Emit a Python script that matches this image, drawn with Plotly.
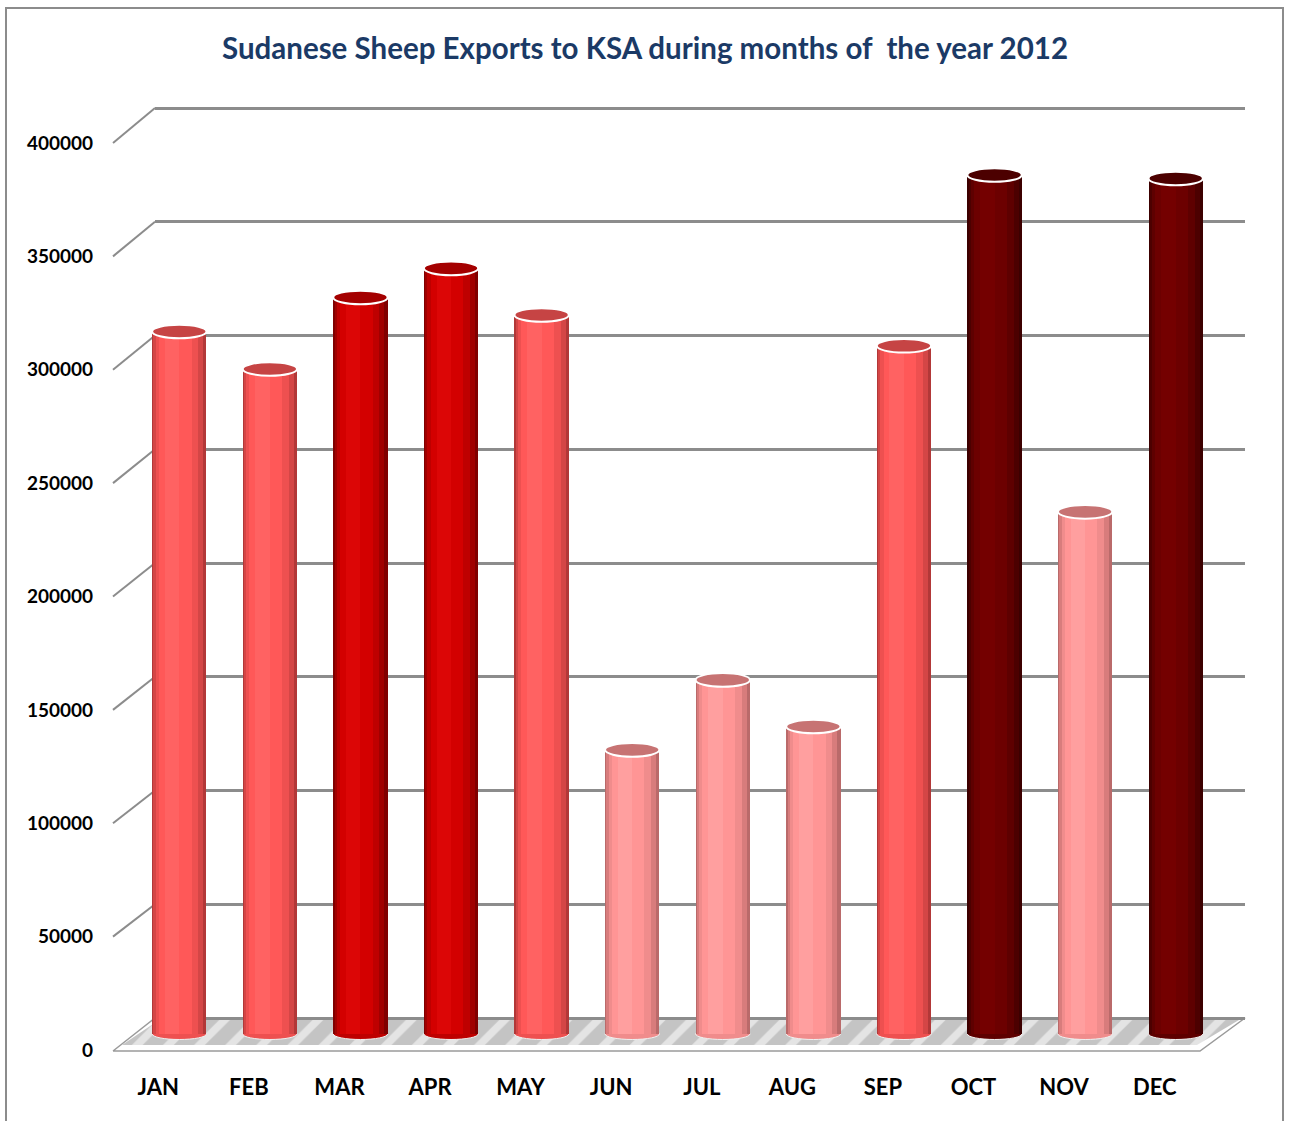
import plotly.graph_objects as go

# ---------------- data ----------------
months = ["JAN", "FEB", "MAR", "APR", "MAY", "JUN", "JUL", "AUG", "SEP", "OCT", "NOV", "DEC"]
exports = [309300, 292800, 324300, 337100, 316600, 125100, 155900, 135400, 303000, 378200, 229900, 376700]
color_group = ["red", "red", "dark", "dark", "red", "pink", "pink", "pink", "red", "maroon", "pink", "maroon"]
y_ticks = [0, 50000, 100000, 150000, 200000, 250000, 300000, 350000, 400000]
title_text = "Sudanese Sheep Exports to KSA during months of  the year 2012"

# ---------------- styling ----------------
W, H = 1290, 1121
FONT = "Lato"
palette = {  # layers from edge to highlight, then top cap
    "red":    ["#B23838", "#D44646", "#EE5050", "#FF5858", "#FF6262", "#C64444"],
    "dark":   ["#800000", "#A00000", "#BE0000", "#D30000", "#DC0606", "#A40000"],
    "pink":   ["#BA6A6A", "#D87C7C", "#F08C8C", "#FF9595", "#FF9F9F", "#C77373"],
    "maroon": ["#3C0000", "#4C0000", "#5E0000", "#6C0000", "#740000", "#4C0000"],
}

def dom_x(a, b):
    return [a / W, b / W]

def dom_y(top, bottom):
    return [1 - bottom / H, 1 - top / H]

YMAX = 400000
# planes (pixel geometry of the pseudo-3D box)
FRONT_X = (113, 1200); FRONT_Y0, FRONT_Y4 = 1050, 143
BACK_X = (155, 1245);  BACK_Y0, BACK_Y4 = 1018, 108
MID_X = (134, 1221);   MID_Y0, MID_Y4 = 1034, 125.5
mid_scale = (MID_Y0 - MID_Y4) / YMAX  # px per unit
BAR_LO, BAR_HI = -12000, 412000
GRID_LO, GRID_HI = -4000, 404000

def front_py(v):
    return FRONT_Y0 - v * (FRONT_Y0 - FRONT_Y4) / YMAX

def back_py(v):
    return BACK_Y0 - v * (BACK_Y0 - BACK_Y4) / YMAX

back_scale = (BACK_Y0 - BACK_Y4) / YMAX

fig = go.Figure()

# ---- page-level decorations (subplot x/y in pixel space) ----
floor_x = [FRONT_X[0], FRONT_X[1], BACK_X[1], BACK_X[0], FRONT_X[0]]
floor_y = [FRONT_Y0 + 1, FRONT_Y0 + 1, BACK_Y0, BACK_Y0, FRONT_Y0 + 1]
fig.add_trace(go.Scatter(x=floor_x, y=floor_y, mode="lines", fill="toself",
                         fillcolor="white", line=dict(color="#9a9a9a", width=1.5),
                         hoverinfo="skip", showlegend=False, xaxis="x", yaxis="y"))
inner_x = [FRONT_X[0] + 9, FRONT_X[1] - 3, BACK_X[1] - 6, BACK_X[0] + 4, FRONT_X[0] + 9]
inner_y = [FRONT_Y0 - 5, FRONT_Y0 - 5, BACK_Y0 + 2, BACK_Y0 + 2, FRONT_Y0 - 5]
fig.add_trace(go.Scatter(x=inner_x, y=inner_y, mode="lines", fill="toself",
                         fillcolor="#c8c8c8",
                         fillpattern=dict(shape="/", bgcolor="#c4c4c4", fgcolor="#e4e4e4",
                                          size=22, solidity=0.35),
                         line=dict(color="rgba(0,0,0,0)", width=0),
                         hoverinfo="skip", showlegend=False, xaxis="x", yaxis="y"))
# diagonal connectors from front ticks to back grid lines
cx, cy = [], []
for v in y_ticks[1:]:
    cx += [FRONT_X[0], BACK_X[0], None]
    cy += [front_py(v), back_py(v), None]
fig.add_trace(go.Scatter(x=cx, y=cy, mode="lines", line=dict(color="#8c8c8c", width=2),
                         hoverinfo="skip", showlegend=False, xaxis="x", yaxis="y"))

# ---- back grid (x2/y2) ----
fig.add_trace(go.Scatter(x=[0], y=[0], mode="markers", marker=dict(opacity=0),
                         hoverinfo="skip", showlegend=False, xaxis="x2", yaxis="y2"))

# ---- front axis labels (x3/y3) ----
fig.add_trace(go.Scatter(x=months, y=[0] * 12, mode="markers", marker=dict(opacity=0),
                         hoverinfo="skip", showlegend=False, xaxis="x3", yaxis="y3"))

# ---- cylinders (x4/y4) ----
xs = list(range(len(months)))
layers = [  # (width, offset) in category units
    (0.60, -0.30),
    (0.55, -0.285),
    (0.47, -0.26),
    (0.36, -0.225),
    (0.16, -0.16),
]
for li, (wd, off) in enumerate(layers):
    fig.add_trace(go.Bar(
        x=xs, y=exports, width=wd, offset=off,
        marker=dict(color=[palette[g][li] for g in color_group], line=dict(width=0)),
        hoverinfo="skip", showlegend=False, xaxis="x4", yaxis="y4"))

shapes = []
ell_h = 6.8 / mid_scale
bot_h = 5.5 / mid_scale
for i, (v, g) in enumerate(zip(exports, color_group)):
    # rounded bottom
    shapes.append(dict(type="circle", xref="x4", yref="y4", layer="below",
                       x0=i - 0.30, x1=i + 0.30, y0=-bot_h, y1=bot_h,
                       fillcolor=palette[g][2], line=dict(color="#f0f0f0", width=1)))
    # top cap
    shapes.append(dict(type="circle", xref="x4", yref="y4", layer="above",
                       x0=i - 0.30, x1=i + 0.30, y0=v - ell_h, y1=v + ell_h,
                       fillcolor=palette[g][5], line=dict(color="white", width=2)))
# chart border
shapes.append(dict(type="rect", xref="paper", yref="paper",
                   x0=6 / W, x1=1283 / W, y0=-0.02, y1=1 - 8 / H,
                   line=dict(color="#8c8c8c", width=2), fillcolor="rgba(0,0,0,0)"))

hidden = dict(visible=False, fixedrange=True, automargin=False)
fig.update_layout(
    template="none",
    width=W, height=H, autosize=False,
    margin=dict(l=0, r=0, t=0, b=0, pad=0),
    paper_bgcolor="white", plot_bgcolor="rgba(0,0,0,0)",
    barmode="overlay", bargap=0,
    showlegend=False,
    font=dict(family=FONT, color="black"),
    title=dict(text="<b>" + title_text + "</b>", x=645 / W, xanchor="center",
               y=1 - 49 / H, yanchor="middle", automargin=False,
               font=dict(family=FONT, size=29.5, color="#1B3A66")),
    shapes=shapes,
    xaxis=dict(domain=[0, 1], range=[0, W], anchor="y", **hidden),
    yaxis=dict(domain=[0, 1], range=[H, 0], anchor="x", **hidden),
    xaxis2=dict(domain=dom_x(*BACK_X), range=[-0.5, 11.5], anchor="y2", automargin=False,
                showgrid=False, showticklabels=False, zeroline=False, showline=False, ticks=""),
    yaxis2=dict(domain=dom_y(BACK_Y0 - GRID_HI * back_scale, BACK_Y0 - GRID_LO * back_scale),
                range=[GRID_LO, GRID_HI], anchor="x2", automargin=False,
                tickvals=y_ticks, showgrid=True, gridcolor="#8c8c8c", gridwidth=2.5,
                showticklabels=False, zeroline=False, showline=False, ticks=""),
    xaxis3=dict(domain=dom_x(*FRONT_X), range=[-0.5, 11.5], anchor="y3", automargin=False,
                type="category", showgrid=False, zeroline=False, showline=False, ticks="",
                tickfont=dict(family=FONT, size=22, color="black", weight="bold"),
                ticklabelstandoff=22),
    yaxis3=dict(domain=dom_y(FRONT_Y4, FRONT_Y0), range=[0, YMAX], anchor="x3", automargin=False,
                tickvals=y_ticks, ticktext=[str(t) for t in y_ticks],
                showgrid=False, zeroline=False, showline=False, ticks="",
                tickfont=dict(family=FONT, size=19, color="black", weight="bold"),
                ticklabelstandoff=19),
    xaxis4=dict(domain=dom_x(*MID_X), range=[-0.5, 11.5], anchor="y4", **hidden),
    yaxis4=dict(domain=dom_y(MID_Y0 - BAR_HI * mid_scale, MID_Y0 - BAR_LO * mid_scale),
                range=[BAR_LO, BAR_HI], anchor="x4", **hidden),
)

fig.write_html("out.html")
